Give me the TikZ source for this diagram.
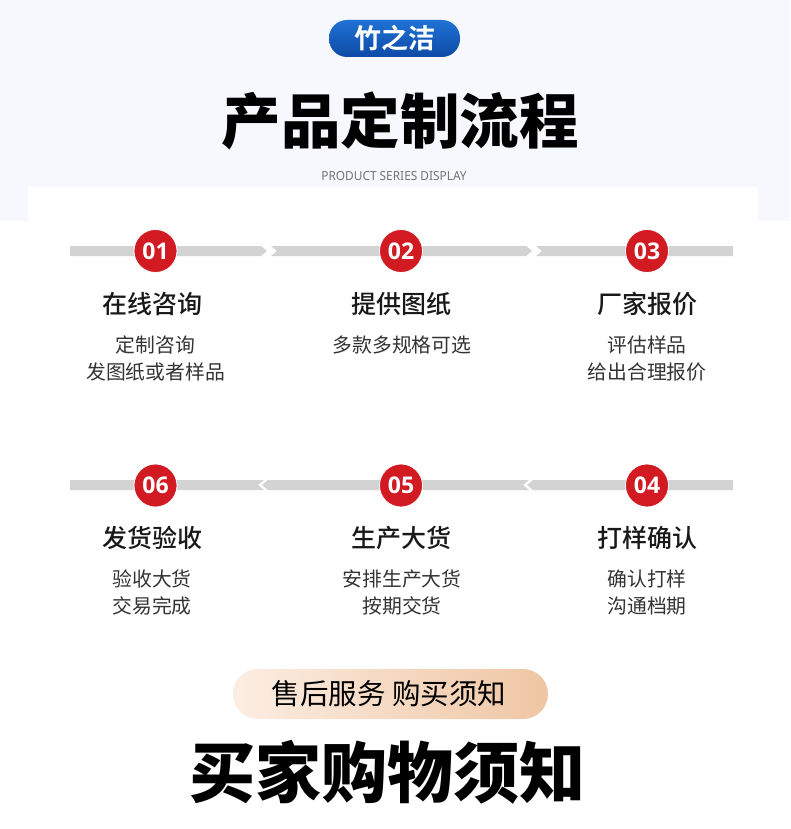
\documentclass[tikz,border=0pt]{standalone}
\usepackage{fontspec}
\usepackage{graphicx}
\setmainfont{Noto Sans CJK SC}
\IfFontExistsTF{Noto Sans CJK SC Black}{\newfontfamily\cjkblack{Noto Sans CJK SC Black}}{\newfontfamily\cjkblack{Noto Sans CJK SC}[FakeBold=3]}
\IfFontExistsTF{Noto Sans CJK SC Medium}{\newfontfamily\cjkmed{Noto Sans CJK SC Medium}}{\newfontfamily\cjkmed{Noto Sans CJK SC}}
\IfFontExistsTF{Noto Sans CJK SC Bold}{\newfontfamily\cjkbold{Noto Sans CJK SC Bold}}{\newfontfamily\cjkbold{Noto Sans CJK SC}[FakeBold=2]}
\newfontfamily\numfont{Open Sans}
\newfontfamily\latfont{Noto Sans}
\usetikzlibrary{shapes.geometric}
\definecolor{bgblue}{HTML}{F7F8FD}
\definecolor{badgetop}{HTML}{1F72D4}
\definecolor{badgebot}{HTML}{0E4AA6}
\definecolor{stepred}{HTML}{D11A22}
\definecolor{bargray}{HTML}{D3D3D3}
\definecolor{subgray}{HTML}{333333}
\definecolor{peachl}{HTML}{FCEDE2}
\definecolor{peachr}{HTML}{EFC6A4}
\tikzset{
  numcircle/.style={circle, fill=stepred, draw=white, line width=0.8pt, minimum size=43pt, inner sep=0pt,
    text=white, font=\numfont\bfseries\fontsize{23}{23}\selectfont},
  steptitle/.style={font=\cjkmed\fontsize{25}{25}\selectfont, text=black!90, inner sep=0pt},
  stepsub/.style={font=\fontsize{19.8}{27}\selectfont, text=subgray, align=center, inner sep=0pt},
  barseg/.style={fill=bargray, draw=none},
}
\begin{document}
\begin{tikzpicture}[x=1pt,y=-1pt]
\useasboundingbox (0,0) rectangle (790,829);
% backgrounds
\fill[white] (0,0) rectangle (790,829);
\fill[bgblue] (0,0) rectangle (790,221);
\fill[white] (28,187) rectangle (758,221);
% badge
\shade[top color=badgetop, bottom color=badgebot, rounded corners=18pt] (329,20) rectangle (460,57);
\node[text=white, font=\cjkbold\fontsize{27}{27}\selectfont, inner sep=0pt] (badge) at (394.5,38.5) {竹之洁};
% title
\node[font=\cjkblack\fontsize{59.5}{59.5}\selectfont, inner sep=0pt] (title) at (400,121) {产品定制流程};
\node[font=\latfont\fontsize{12.5}{12.5}\selectfont, text=black!55, inner sep=0pt] (subtitle) at (394,176) {\scalebox{0.95}[1]{PRODUCT SERIES DISPLAY}};
% row 1 bars
\fill[barseg] (70,246) -- (261,246) -- (267,251) -- (261,256) -- (70,256) -- cycle;
\fill[barseg] (271,246) -- (526,246) -- (532,251) -- (526,256) -- (271,256) -- (277,251) -- cycle;
\fill[barseg] (536,246) -- (733,246) -- (733,256) -- (536,256) -- (542,251) -- cycle;
% row 2 bars
\fill[barseg] (70,480) -- (264,480) -- (258,485) -- (264,490) -- (70,490) -- cycle;
\fill[barseg] (268,480) -- (529,480) -- (523,485) -- (529,490) -- (268,490) -- (262,485) -- cycle;
\fill[barseg] (533,480) -- (733,480) -- (733,490) -- (533,490) -- (527,485) -- cycle;
% circles
\node[numcircle] (c1) at (155.5,251) {01};
\node[numcircle] (c2) at (401,251) {02};
\node[numcircle] (c3) at (647,251) {03};
\node[numcircle] (c6) at (155.5,485.5) {06};
\node[numcircle] (c5) at (401,485.5) {05};
\node[numcircle] (c4) at (647,485.5) {04};
% titles row 1
\node[steptitle] (t1) at (152,304) {在线咨询};
\node[steptitle] (t2) at (401,304) {提供图纸};
\node[steptitle] (t3) at (647,304) {厂家报价};
\node[stepsub, anchor=north] (s1) at (155.5,336) {定制咨询\\发图纸或者样品};
\node[stepsub, anchor=north] (s2) at (402,336) {多款多规格可选};
\node[stepsub, anchor=north] (s3) at (647,336) {评估样品\\给出合理报价};
% titles row 2
\node[steptitle] (t6) at (152,538) {发货验收};
\node[steptitle] (t5) at (401,538) {生产大货};
\node[steptitle] (t4) at (647,538) {打样确认};
\node[stepsub, anchor=north] (s6) at (152,570) {验收大货\\交易完成};
\node[stepsub, anchor=north] (s5) at (402,570) {安排生产大货\\按期交货};
\node[stepsub, anchor=north] (s4) at (647,570) {确认打样\\沟通档期};
% pill
\shade[left color=peachl, right color=peachr, rounded corners=25pt] (233,669) rectangle (548,719);
\node[font=\fontsize{28.5}{28.5}\selectfont, inner sep=0pt] (pill) at (389,694) {售后服务 购买须知};
% bottom title
\node[font=\cjkblack\fontsize{66}{66}\selectfont, inner sep=0pt] (bottom) at (387,772) {买家购物须知};
\end{tikzpicture}
\end{document}
